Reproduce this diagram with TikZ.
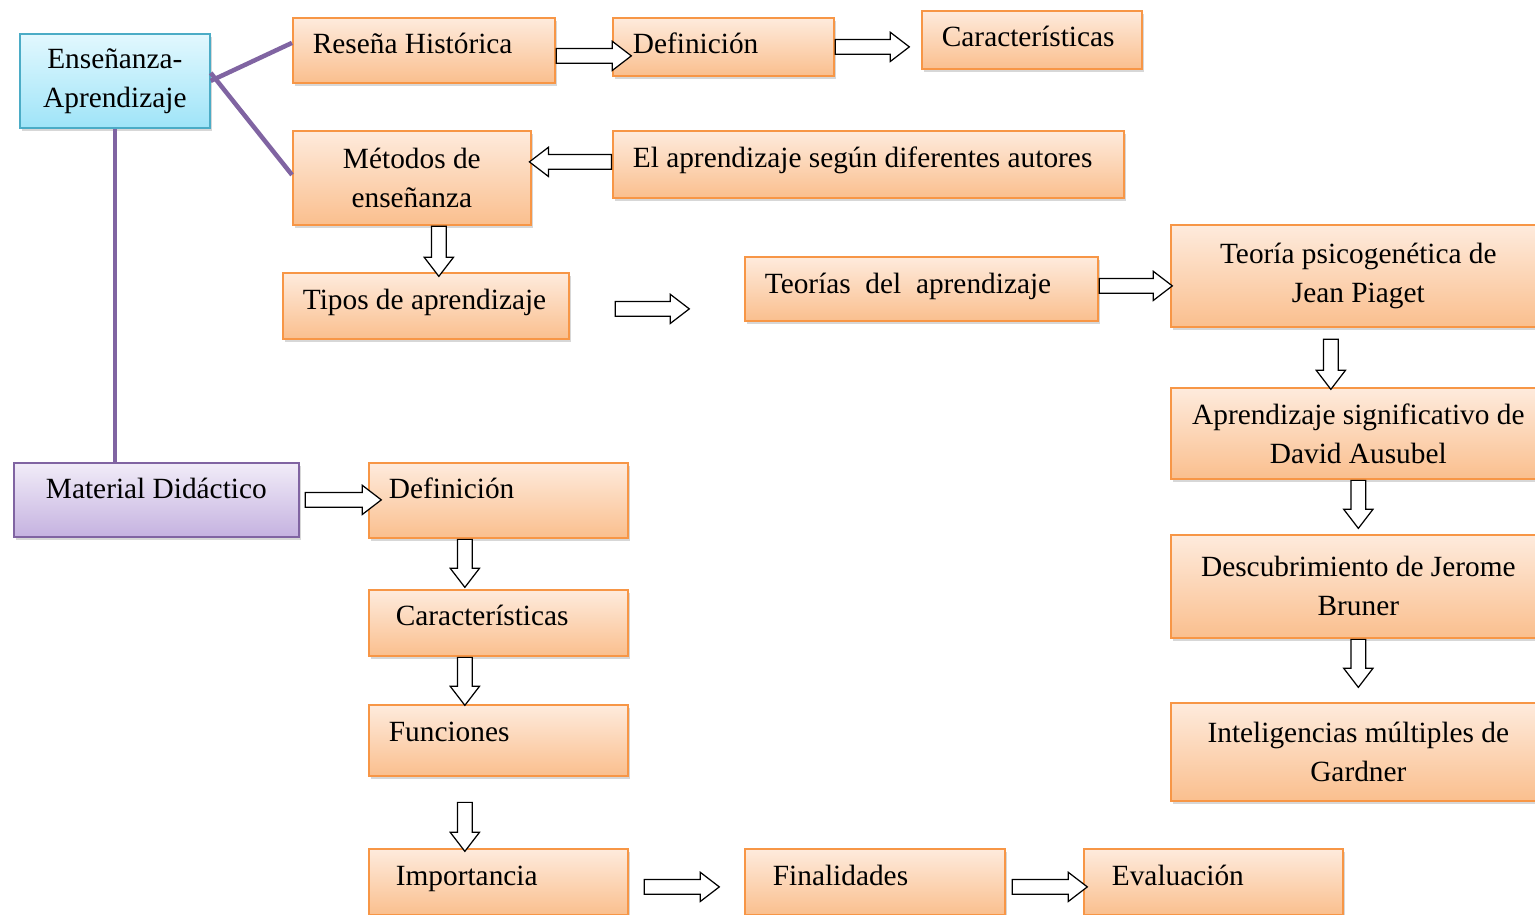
\documentclass[tikz,border=0pt]{standalone}
\usepackage{fontspec}
\setmainfont{Liberation Serif}
\usepackage{tikz}
\usetikzlibrary{shapes}
\usetikzlibrary{shadows}
\usetikzlibrary{positioning}

\definecolor{naranja}{HTML}{F79646}
\definecolor{naranjaA}{HTML}{FEEBDD}
\definecolor{naranjaB}{HTML}{FABF8E}
\definecolor{azul}{HTML}{4BACC6}
\definecolor{azulA}{HTML}{E2F8FE}
\definecolor{azulB}{HTML}{9FE4F8}
\definecolor{lila}{HTML}{8064A2}
\definecolor{lilaA}{HTML}{F1ECF8}
\definecolor{lilaB}{HTML}{C5B2E0}

\tikzset{
	caja/.style = {rectangle, draw = naranja, line width = 1pt, top color = naranjaA, bottom color = naranjaB, drop shadow = {shadow xshift = .05cm, shadow yshift = -.07cm, fill = black!35, opacity = .45}, font = \fontsize{16.7}{22.2}\selectfont, anchor = north west},
	izq/.style = {caja, align = left, inner xsep = .1cm, text height = .41cm, text depth = .28cm, execute at begin node = {\spaceskip = 0pt\relax\hspace*{#1}}},
	izq/.default = .3cm,
	centro/.style = {caja, align = center},
	celeste/.style = {draw = azul, top color = azulA, bottom color = azulB},
	morado/.style = {draw = lila, top color = lilaA, bottom color = lilaB},
	flecha/.style = {single arrow, draw = black, fill = white, line width = .7pt, inner xsep = 0pt, inner ysep = .135cm, minimum width = .56cm, single arrow head extend = .145cm, single arrow tip angle = 75, anchor = tail},
	linea/.style = {draw = lila, line width = .09cm}
}

\begin{document}
\begin{tikzpicture}[x = 0.02cm, y = -0.02cm]
		
		\useasboundingbox (0,0) rectangle (1535,914);
		\clip (0,0) rectangle (1535,914);
		
		\node[caja, celeste, align = center, minimum width = 3.8cm, minimum height = 1.88cm] at (19,33) (ensenanza) {Enseñanza-\\Aprendizaje};
		\node[izq, minimum height = 1.3cm, text width = 5.04cm] at (292,17) (resena) {Reseña Histórica};
		\node[izq, minimum height = 1.16cm, text width = 4.22cm, text depth = .14cm] at (612,17) (defa) {Definición};
		\node[izq, minimum height = 1.16cm, text width = 4.2cm, text depth = .14cm] at (921,10) (cara) {Características};
		\node[centro, minimum width = 4.76cm, minimum height = 1.88cm] at (292,130) (metodos) {Métodos de\\enseñanza};
		\node[izq, minimum height = 1.34cm, text width = 10.02cm, text depth = .3cm] at (612,130) (autores) {El aprendizaje según diferentes autores};
		\node[izq, minimum height = 1.32cm, text width = 5.52cm] at (282,272) (tipos) {Tipos de aprendizaje};
		\node[izq, minimum height = 1.28cm, text width = 6.86cm, text depth = .24cm] at (744,256) (teorias) {Teorías\ \ del\ \ aprendizaje};
		\node[centro, minimum width = 7.5cm, minimum height = 2.04cm] at (1170,224) (piaget) {Teoría psicogenética de\\Jean Piaget};
		\node[centro, minimum width = 7.5cm, minimum height = 1.82cm] at (1170,387) (ausubel) {Aprendizaje significativo de\\David Ausubel};
		\node[centro, minimum width = 7.5cm, minimum height = 2.06cm] at (1170,534) (bruner) {Descubrimiento de Jerome\\Bruner};
		\node[centro, minimum width = 7.5cm, minimum height = 1.96cm] at (1170,702) (gardner) {Inteligencias múltiples de\\Gardner};
		\node[centro, morado, minimum width = 5.7cm, minimum height = 1.48cm, text height = .41cm, text depth = .48cm] at (13,462) (material) {Material Didáctico};
		\node[izq, minimum height = 1.5cm, text width = 4.98cm, text depth = .5cm] at (368,462) (defb) {Definición};
		\node[izq = .44cm, minimum height = 1.32cm, text width = 4.98cm, text depth = .32cm] at (368,589) (carb) {Características};
		\node[izq, minimum height = 1.42cm, text width = 4.98cm, text depth = .38cm] at (368,704) (funciones) {Funciones};
		\node[izq = .44cm, minimum height = 1.32cm, text width = 4.98cm] at (368,848) (importancia) {Importancia};
		\node[izq = .46cm, minimum height = 1.32cm, text width = 5cm] at (744,848) (finalidades) {Finalidades};
		\node[izq = .46cm, minimum height = 1.32cm, text width = 4.98cm] at (1083,848) (evaluacion) {Evaluación};
		
		\node[flecha, minimum height = 1.5cm] at ([yshift = -.11cm]resena.east) (f1) {};
		\node[flecha, minimum height = 1.48cm] at (defa.east) (f2) {};
		\node[flecha, minimum height = 1.64cm, rotate = 180] at ([yshift = .05cm]autores.west) (f3) {};
		\node[flecha, minimum height = 1cm, rotate = -90] at ([xshift = .54cm]metodos.south) (f4) {};
		\node[flecha, minimum height = 1.48cm] at ([xshift = .9cm, yshift = -.06cm]tipos.east) (f5) {};
		\node[flecha, minimum height = 1.46cm] at ([yshift = .06cm]teorias.east) (f6) {};
		\node[flecha, minimum height = 1cm, rotate = -90] at ([xshift = -.55cm, yshift = -.22cm]piaget.south) (f7) {};
		\node[flecha, minimum height = .96cm, rotate = -90] at (ausubel.south) (f8) {};
		\node[flecha, minimum height = .96cm, rotate = -90] at (bruner.south) (f9) {};
		\node[flecha, minimum height = 1.52cm] at ([xshift = .1cm]material.east) (f10) {};
		\node[flecha, minimum height = .96cm, rotate = -90] at ([xshift = -.67cm]defb.south) (f11) {};
		\node[flecha, minimum height = .96cm, rotate = -90] at ([xshift = -.67cm]carb.south) (f12) {};
		\node[flecha, minimum height = .98cm, rotate = -90] at ([xshift = -.67cm, yshift = -.5cm]funciones.south) (f13) {};
		\node[flecha, minimum height = 1.5cm] at ([xshift = .3cm, yshift = -.1cm]importancia.east) (f14) {};
		\node[flecha, minimum height = 1.5cm] at ([xshift = .12cm, yshift = -.1cm]finalidades.east) (f15) {};
		
		\path
		(ensenanza.east) edge[linea] ([yshift = .15cm]resena.west)
		([yshift = .16cm]ensenanza.east) edge[linea] ([yshift = .06cm]metodos.west)
		(ensenanza.south) edge[linea] (ensenanza.south |- material.north)
		;
		
\end{tikzpicture}
\end{document}
